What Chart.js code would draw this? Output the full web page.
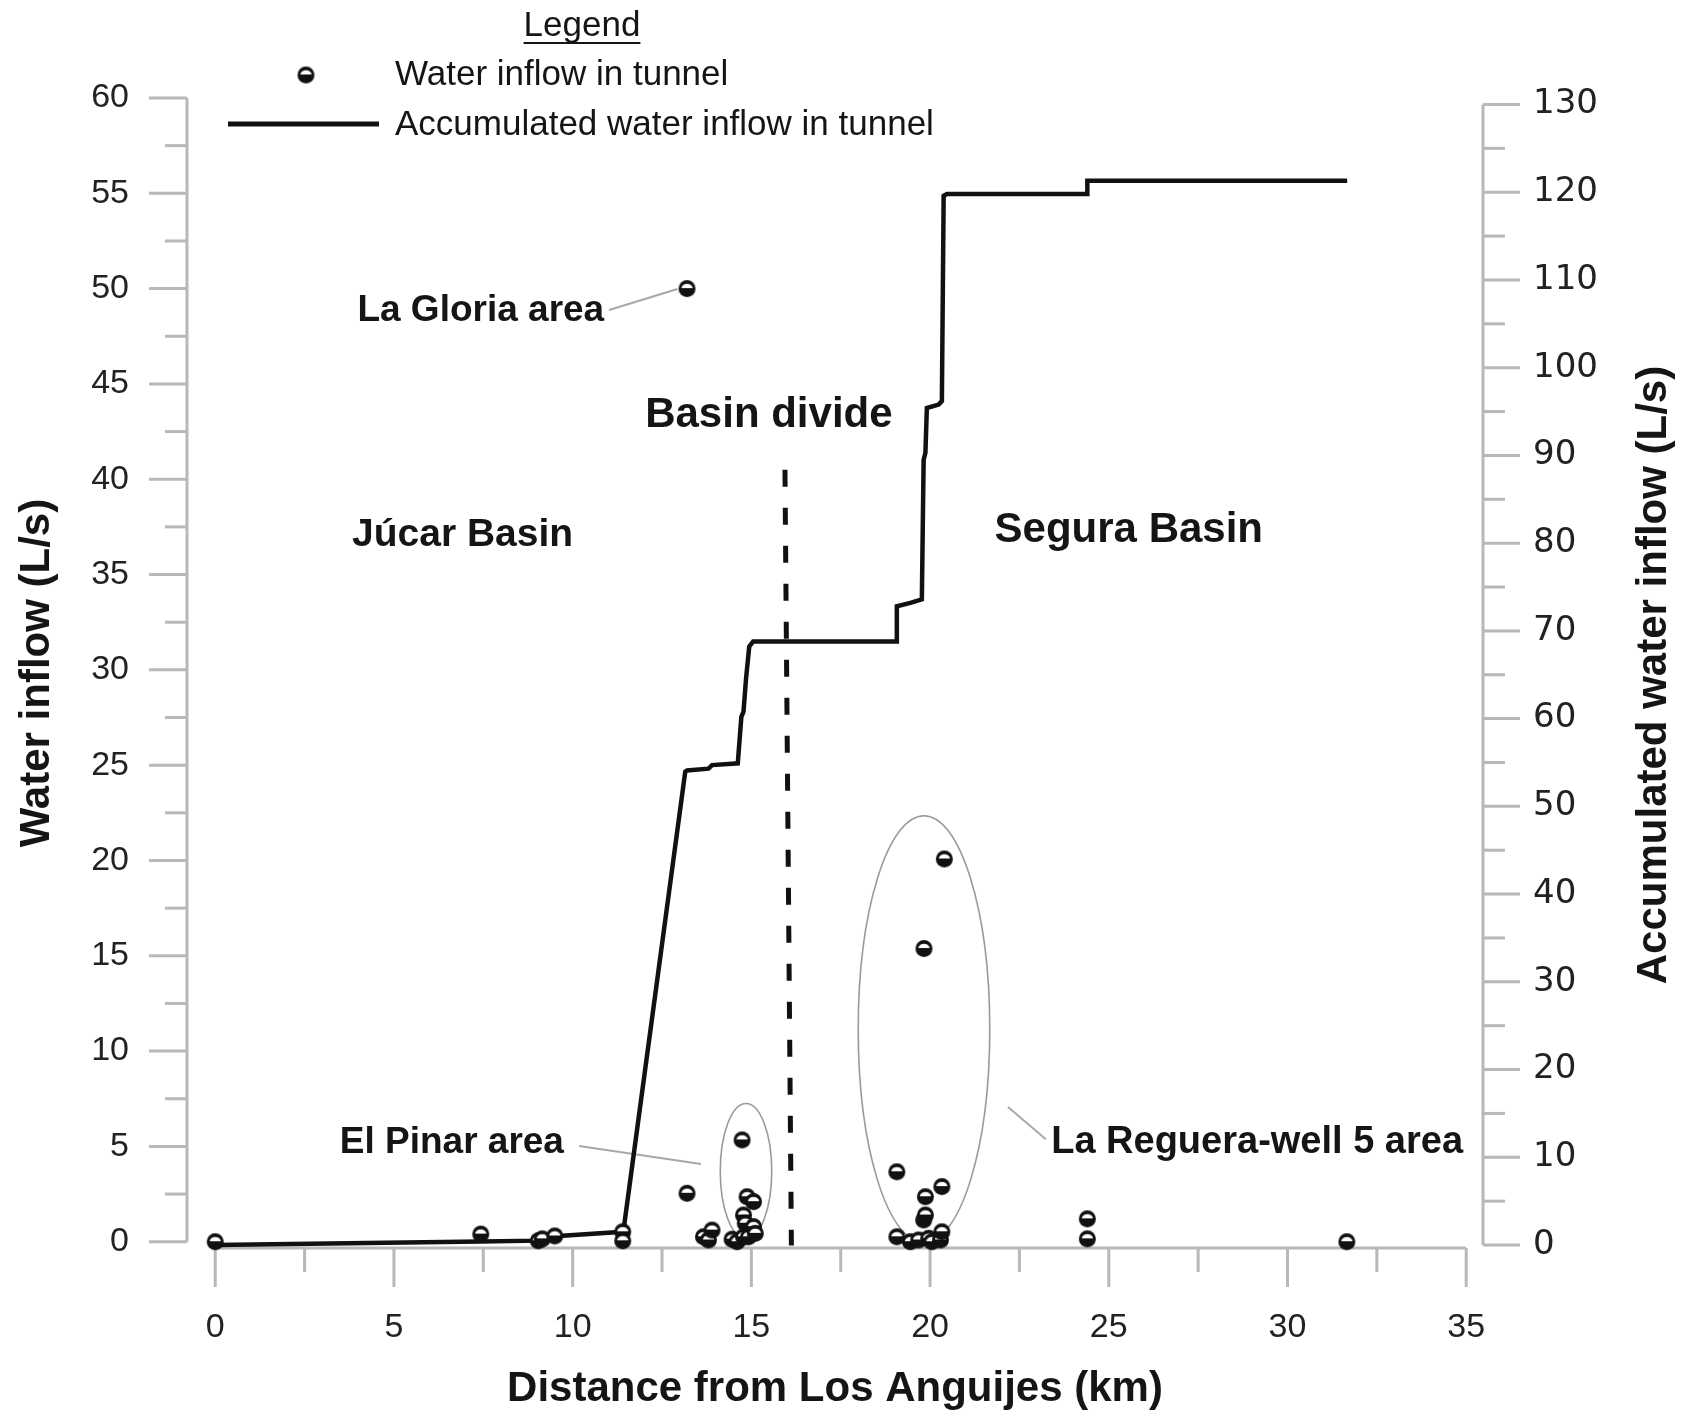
<!DOCTYPE html>
<html>
<head>
<meta charset="utf-8">
<title>Water inflow in tunnel</title>
<script src="https://cdn.jsdelivr.net/npm/chart.js@4.4.1/dist/chart.umd.min.js"></script>
<style>
    body { margin: 0; background: #fff; }
    canvas { display: block; }
</style>
</head>
<body>
<canvas id="canvas" width="1690" height="1421"></canvas>
<script>
// inflow points measured along the tunnel (km, L/s)
const inflowKm = [0, 7.43, 9.04, 9.15, 9.5, 11.4, 11.4, 13.2, 13.2, 13.66, 13.8, 13.9, 14.46, 14.6, 14.74, 14.78, 14.78, 14.83, 14.88, 14.92, 15.06, 15.06, 15.11, 19.07, 19.07, 19.45, 19.68, 19.82, 19.83, 19.87, 19.87, 19.96, 20.05, 20.29, 20.33, 20.33, 20.4, 24.4, 24.4, 31.66]
const inflowLs = [0, 0.4, 0.05, 0.15, 0.3, 0.52, 0.05, 50, 2.54, 0.26, 0.09, 0.61, 0.13, 0, 5.34, 1.4, 0.26, 0.97, 2.36, 0.26, 2.1, 0.79, 0.44, 3.67, 0.26, 0, 0.09, 1.14, 15.38, 2.36, 1.4, 0.18, 0, 0.09, 2.89, 0.52, 20.08, 1.2, 0.15, 0]

// accumulated inflow (right axis)
const accumKm = [0, 7.43, 9.04, 9.15, 9.5, 11.4, 11.42, 13.15, 13.2, 13.8, 13.9, 14.46, 14.62, 14.72, 14.78, 14.85, 14.94, 15.05, 19.07, 19.07, 19.45, 19.77, 19.82, 19.87, 19.91, 20.24, 20.33, 20.38, 20.47, 24.4, 24.4, 31.67]
const accumLs = [0, 0.4, 0.5, 0.7, 1.0, 1.5, 1.6, 53.95, 54.1, 54.3, 54.7, 54.85, 54.9, 60.2, 60.8, 64.5, 68.2, 68.8, 68.8, 72.8, 73.2, 73.6, 89.5, 90.3, 95.4, 95.8, 96.2, 119.6, 119.8, 119.8, 121.3, 121.3]

// basin divide
const divideKm = [15.94, 16.12]
const divideLs = [40.5, -0.2]

const xTicks = [0, 5, 10, 15, 20, 25, 30, 35]
const leftTicks = [0, 5, 10, 15, 20, 25, 30, 35, 40, 45, 50, 55, 60]
const rightTicks = [0, 10, 20, 30, 40, 50, 60, 70, 80, 90, 100, 110, 120, 130]

const axisColor = '#b8b8b8'
const noteColor = '#9a9a9a'
const textColor = '#151515'

// half white / half black ball used for the inflow points
function makeMarker(r) {
    const c = document.createElement('canvas')
    const s = Math.ceil(r * 2 + 2)
    c.width = s
    c.height = s
    const g = c.getContext('2d')
    const m = s / 2
    g.fillStyle = '#111'
    g.beginPath()
    g.arc(m, m, r, 0, Math.PI * 2)
    g.fill()
    g.fillStyle = '#fff'
    g.beginPath()
    g.ellipse(m, m - 0.5, r * 0.66, r * 0.5, 0, Math.PI, Math.PI * 2)
    g.fill()
    return c
}
const marker = makeMarker(8.5)

function seg(ctx, x1, y1, x2, y2) {
    ctx.beginPath()
    ctx.moveTo(x1, y1)
    ctx.lineTo(x2, y2)
    ctx.stroke()
}

function midpoints(arr) {
    const out = []
    for (let i = 0; i < arr.length - 1; i++) out.push((arr[i] + arr[i + 1]) / 2)
    return out
}

// ellipses around the inflow areas (centre and radii in km / L/s)
const areaRings = [
    { km: 14.85, ls: 3.7, rkm: 0.72, rls: 3.55 },
    { km: 19.83, ls: 11.15, rkm: 1.84, rls: 11.2 }
]
// leader lines from the labels
const leaders = [
    [11.02, 48.88, 12.93, 49.98],
    [10.18, 5.02, 13.59, 4.08],
    [22.18, 7.07, 23.24, 5.37]
]
const notes = [
    { text: 'La Gloria area', km: 7.43, ls: 48.86, size: 37 },
    { text: 'Basin divide', km: 15.49, ls: 43.37, size: 42 },
    { text: 'Júcar Basin', km: 6.92, ls: 37.04, size: 39 },
    { text: 'Segura Basin', km: 25.56, ls: 37.32, size: 42 },
    { text: 'El Pinar area', km: 6.62, ls: 5.2, size: 37 },
    { text: 'La Reguera-well 5 area', km: 29.15, ls: 5.2, size: 38 }
]

const frame = {
    id: 'frame',
    beforeDatasetsDraw(chart) {
        const { ctx, chartArea: a, scales: { x, y, y1 } } = chart
        ctx.save()
        ctx.strokeStyle = axisColor
        ctx.lineWidth = 3

        // left axis
        seg(ctx, a.left, y.getPixelForValue(leftTicks[0]), a.left, y.getPixelForValue(leftTicks[leftTicks.length - 1]))
        leftTicks.forEach(v => { const p = y.getPixelForValue(v); seg(ctx, a.left - 38, p, a.left, p) })
        midpoints(leftTicks).forEach(v => { const p = y.getPixelForValue(v); seg(ctx, a.left - 22, p, a.left, p) })

        // bottom axis
        seg(ctx, x.getPixelForValue(xTicks[0]), a.bottom, x.getPixelForValue(xTicks[xTicks.length - 1]), a.bottom)
        xTicks.forEach(v => { const p = x.getPixelForValue(v); seg(ctx, p, a.bottom, p, a.bottom + 39) })
        midpoints(xTicks).forEach(v => { const p = x.getPixelForValue(v); seg(ctx, p, a.bottom, p, a.bottom + 24) })

        // right axis
        seg(ctx, a.right, y1.getPixelForValue(rightTicks[0]), a.right, y1.getPixelForValue(rightTicks[rightTicks.length - 1]))
        rightTicks.forEach(v => { const p = y1.getPixelForValue(v); seg(ctx, a.right, p, a.right + 37, p) })
        midpoints(rightTicks).forEach(v => { const p = y1.getPixelForValue(v); seg(ctx, a.right, p, a.right + 22, p) })

        // rings and leader lines
        ctx.strokeStyle = noteColor
        ctx.lineWidth = 1.6
        areaRings.forEach(r => {
            const cx = x.getPixelForValue(r.km)
            const cy = y.getPixelForValue(r.ls)
            const rx = x.getPixelForValue(r.km + r.rkm) - cx
            const ry = cy - y.getPixelForValue(r.ls + r.rls)
            ctx.beginPath()
            ctx.ellipse(cx, cy, rx, ry, 0, 0, Math.PI * 2)
            ctx.stroke()
        })
        ctx.strokeStyle = '#a8a8a8'
        ctx.lineWidth = 2
        leaders.forEach(l => {
            seg(ctx, x.getPixelForValue(l[0]), y.getPixelForValue(l[1]), x.getPixelForValue(l[2]), y.getPixelForValue(l[3]))
        })
        ctx.restore()
    },
    afterDraw(chart) {
        const { ctx, scales: { x, y } } = chart
        ctx.save()
        ctx.fillStyle = textColor
        ctx.textAlign = 'center'
        ctx.textBaseline = 'middle'
        notes.forEach(n => {
            ctx.font = 'bold ' + n.size + 'px "Liberation Sans", Arial, sans-serif'
            ctx.fillText(n.text, x.getPixelForValue(n.km), y.getPixelForValue(n.ls))
        })

        // right axis title, read bottom to top
        ctx.font = 'bold 42px "Liberation Sans", Arial, sans-serif'
        ctx.save()
        ctx.translate(1654, 675)
        ctx.rotate(-Math.PI / 2)
        ctx.fillText('Accumulated water inflow (L/s)', 0, 0)
        ctx.restore()

        // legend
        ctx.font = '35px "Liberation Sans", Arial, sans-serif'
        ctx.fillText('Legend', 582, 26)
        const lw = ctx.measureText('Legend').width
        ctx.strokeStyle = textColor
        ctx.lineWidth = 2
        seg(ctx, 582 - lw / 2, 43, 582 + lw / 2, 43)

        ctx.drawImage(marker, 306 - marker.width / 2, 75 - marker.height / 2)
        ctx.lineWidth = 5
        ctx.strokeStyle = '#111'
        seg(ctx, 228, 124, 379, 124)

        ctx.textAlign = 'left'
        ctx.fillText('Water inflow in tunnel', 395, 75)
        ctx.fillText('Accumulated water inflow in tunnel', 395, 125)
        ctx.restore()
    }
}

const tickFont = { family: '"Liberation Sans", Arial, sans-serif', size: 34 }
const titleFont = { family: '"Liberation Sans", Arial, sans-serif', size: 42, weight: 'bold' }

const configChart = {
    type: 'scatter',
    plugins: [frame],
    data: {
        datasets: [{
            label: 'Water inflow in tunnel',
            data: inflowKm.map((v, i) => ({ x: v, y: inflowLs[i] })),
            yAxisID: 'y',
            pointStyle: marker,
            pointRadius: 9,
            order: 0,
            clip: false
        }, {
            type: 'line',
            label: 'Accumulated water inflow in tunnel',
            data: accumKm.map((v, i) => ({ x: v, y: accumLs[i] })),
            yAxisID: 'y1',
            borderColor: '#111',
            borderWidth: 4.5,
            pointRadius: 0,
            tension: 0,
            fill: false,
            order: 1,
            clip: false
        }, {
            type: 'line',
            label: 'Basin divide',
            data: divideKm.map((v, i) => ({ x: v, y: divideLs[i] })),
            yAxisID: 'y',
            borderColor: '#111',
            borderWidth: 5,
            borderDash: [17, 21],
            pointRadius: 0,
            fill: false,
            order: 2,
            clip: false
        }]
    },
    options: {
        responsive: false,
        animation: false,
        devicePixelRatio: 1,
        layout: { padding: { top: 98, left: 0, right: 0, bottom: 0 } },
        plugins: {
            legend: { display: false },
            tooltip: { enabled: false }
        },
        scales: {
            x: {
                type: 'linear',
                position: 'bottom',
                min: -0.79,
                max: 35.47,
                afterBuildTicks: s => { s.ticks = xTicks.map(v => ({ value: v })) },
                afterFit: s => { s.height = 173 },
                grid: { display: false, drawTicks: false },
                border: { display: false },
                ticks: { font: tickFont, color: '#222', padding: 59, maxRotation: 0, autoSkip: false },
                title: {
                    display: true,
                    text: 'Distance from Los Anguijes (km)',
                    font: titleFont,
                    color: textColor,
                    padding: { top: 0, bottom: 6 }
                }
            },
            y: {
                type: 'linear',
                position: 'left',
                min: -0.33,
                max: 60,
                afterBuildTicks: s => { s.ticks = leftTicks.map(v => ({ value: v })) },
                afterFit: s => { s.width = 187 },
                grid: { display: false, drawTicks: false },
                border: { display: false },
                ticks: { font: tickFont, color: '#222', padding: 58, autoSkip: false },
                title: {
                    display: true,
                    text: 'Water inflow (L/s)',
                    font: titleFont,
                    color: textColor,
                    padding: { top: 12, bottom: 0 }
                }
            },
            y1: {
                type: 'linear',
                position: 'right',
                min: -0.34,
                max: 130.74,
                afterBuildTicks: s => { s.ticks = rightTicks.map(v => ({ value: v })) },
                afterFit: s => { s.width = 207 },
                grid: { display: false, drawTicks: false },
                border: { display: false },
                ticks: { font: { family: '"DejaVu Sans", sans-serif', size: 34 }, color: '#222', padding: 50, autoSkip: false }
            }
        }
    }
}

const canvas = document.getElementById('canvas')
const myChart = new Chart(canvas, configChart)
</script>
</body>
</html>
